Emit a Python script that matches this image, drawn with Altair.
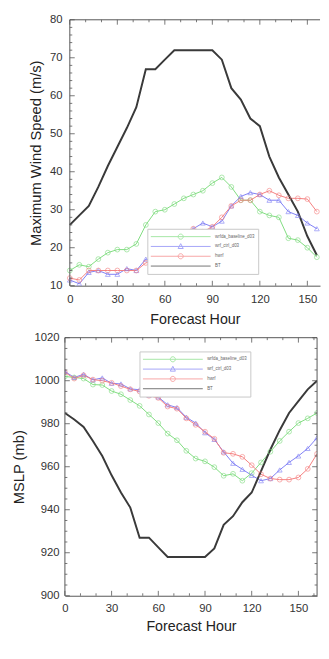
import altair as alt
import pandas as pd

FONT = "Liberation Sans"

hours = list(range(0, 163, 6))
series = ["wrfda_baseline_d03", "wrf_ctrl_d03", "hwrf", "BT"]
colors = ["#7fdc7f", "#7f7ff5", "#f58080", "#3a3a3a"]

# Maximum wind speed (m/s)
wind_green = [14, 15.5, 15, 17, 18.7, 19.5, 19.5, 21, 26, 29.5, 30, 31.5, 33, 34,
              35, 37, 38.5, 36, 32.5, 32.5, 29.5, 28.5, 28, 22.5, 22, 20, 17.5, 15]
wind_blue = [11.5, 10.5, 13.5, 14, 13, 13, 14.5, 14, 17, 16.5, 21, 22.5, 20, 25,
             26.5, 25.5, 27, 31, 33.5, 34.5, 34, 32.5, 32.5, 29.5, 28.5, 26.5, 25, 23]
wind_red = [12, 11.5, 14, 14, 14, 14, 14, 14, 16, 16.7, 20, 22.5, 24, 25,
            24.2, 25.5, 28, 31, 32.5, 32.5, 34, 35, 33.8, 33, 33, 32.8, 29.5, 28]
wind_bt = [26, 28.5, 31, 36, 41.5, 46.5, 51.5, 57, 67, 67, 69.5, 72, 72, 72,
           72, 72, 69.5, 62, 59, 54, 52, 44, 38.5, 34, 29.5, 23, 18, 14]

# Minimum sea level pressure (mb)
slp_green = [1002, 1001.5, 1001, 998.2, 998, 995.2, 993.7, 991, 988.3, 984.3, 980.3, 975.4, 972.3, 967.4,
             963.8, 962.5, 959.8, 955.8, 956.7, 953.5, 957, 962, 967, 972, 976.3, 980.3, 982.5, 985]
slp_blue = [1004.3, 1001.5, 1003, 1000.4, 1001.3, 998.8, 998.5, 996.2, 995.8, 993.3, 992.4, 988.8, 987.5, 983,
            980.3, 975.8, 972.7, 966.9, 961.6, 958.8, 956, 953.5, 954.5, 958.5, 962, 965, 968.5, 973.5]
slp_red = [1003.9, 1001, 1002.5, 1000.5, 1000, 999, 997.5, 996, 995, 993, 992, 988, 987, 982.5,
           979.5, 976.3, 973, 966.5, 966, 964.6, 960.7, 956.5, 954.5, 954, 954, 955, 959, 966]
slp_bt = [985, 982, 978.5, 972, 965, 956, 948, 941, 927, 927, 922.5, 918, 918, 918,
          918, 918, 922, 933, 937, 943.5, 948, 958, 968, 977, 985, 990.5, 996, 1000]

x_major = [0, 30, 60, 90, 120, 150]
x_minor = list(range(0, 161, 10))
wind_major = [10, 20, 30, 40, 50, 60, 70, 80]
wind_minor = list(range(10, 81, 2))
slp_major = [900, 920, 940, 960, 980, 1000, 1020]
slp_minor = list(range(900, 1021, 5))


def frame(values_by_series):
    rows = []
    for name, vals in zip(series, values_by_series):
        for h, v in zip(hours, vals):
            rows.append({"hour": h, "value": v, "series": name})
    return pd.DataFrame(rows)


wind_df = frame([wind_green, wind_blue, wind_red, wind_bt])
slp_df = frame([slp_green, slp_blue, slp_red, slp_bt])

R = 0.085
legend_paths = [
    f"M-1,0L1,0M{R},0A{R},{R},0,1,1,-{R},0A{R},{R},0,1,1,{R},0",
    f"M-1,0L1,0M0,-{R*1.1}L{R},{R*0.8}L-{R},{R*0.8}Z",
    f"M-1,0L1,0M{R},0A{R},{R},0,1,1,-{R},0A{R},{R},0,1,1,{R},0",
    "M-1,0L1,0",
]

AX_COL = "#555555"


def panel(df, W, H, xdom, xrng, ydom, ymaj, ymin, ytitle, ylabpad, ytitlepad,
          xlabpad, xtitlepad, legx, legy, x0, right_frame):
    xs = alt.Scale(domain=xdom, range=xrng, nice=False, zero=False)
    ys = alt.Scale(domain=ydom, nice=False, zero=False)
    cscale = alt.Scale(domain=series, range=colors)
    # the visible window of the panel ends at xdom[1]
    base = alt.Chart(df[df["hour"] <= xdom[1]])

    main_x = alt.Axis(orient="bottom", values=x_major, ticks=False, domain=True,
                      title="Forecast Hour", labelPadding=xlabpad, titlePadding=xtitlepad,
                      grid=False, labelFontSize=11.5, titleFontSize=14.5, labelFlush=False,
                      domainColor=AX_COL, format="d")
    main_y = alt.Axis(orient="left", values=ymaj, ticks=False, domain=False,
                      offset=-x0, title=ytitle, labelPadding=ylabpad, titlePadding=ytitlepad,
                      grid=False, labelFontSize=11.5, titleFontSize=15, format="d")

    def X(field):
        return alt.X(field, scale=xs, axis=main_x)

    def Y(field):
        return alt.Y(field, scale=ys, axis=main_y)

    models = base.transform_filter(alt.datum.series != "BT")
    lines = models.mark_line(strokeWidth=1, clip=True).encode(
        x=X("hour:Q"), y=Y("value:Q"),
        color=alt.Color("series:N", scale=cscale, legend=None),
    )
    bt = base.transform_filter(alt.datum.series == "BT").mark_line(
        strokeWidth=2, color="#3a3a3a", clip=True).encode(x=X("hour:Q"), y=Y("value:Q"))
    pts = models.mark_point(filled=False, size=24, strokeWidth=0.9, clip=True).encode(
        x=X("hour:Q"), y=Y("value:Q"),
        color=alt.Color("series:N", scale=cscale, legend=None),
        shape=alt.Shape("series:N", scale=alt.Scale(
            domain=series, range=["circle", "triangle-up", "circle", "circle"]), legend=None),
    )
    leg = alt.Legend(orient="none", legendX=legx, legendY=legy, title=None,
                     fillColor="white", strokeColor="#c8c8c8", padding=3,
                     labelFont=FONT, labelFontSize=4.5, labelColor="#666666",
                     symbolSize=3721, clipHeight=10, rowPadding=0, labelOffset=4,
                     symbolFillColor="transparent")
    legend_layer = base.transform_filter("false").mark_point(filled=False).encode(
        color=alt.Color("series:N", scale=cscale, legend=leg),
        shape=alt.Shape("series:N", scale=alt.Scale(domain=series, range=legend_paths), legend=leg),
        strokeWidth=alt.StrokeWidth("series:N", scale=alt.Scale(domain=series, range=[1, 1, 1, 2.5]),
                                    legend=leg),
    )

    # frame lines
    one = pd.DataFrame({"k": [0]})
    rule = dict(color=AX_COL, strokeWidth=1)
    frame_layers = [
        alt.Chart(one).mark_rule(**rule).encode(x=alt.value(x0), y=alt.value(0), y2=alt.value(H)),
        alt.Chart(one).mark_rule(**rule).encode(x=alt.value(x0), x2=alt.value(W), y=alt.value(0)),
    ]
    if right_frame:
        frame_layers.append(
            alt.Chart(one).mark_rule(**rule).encode(x=alt.value(W), y=alt.value(0), y2=alt.value(H)))

    # inward ticks
    xmax = xdom[1]
    tick_layers = []
    tk = dict(color=AX_COL, strokeWidth=0.8)
    for vals, ln in ((x_major, 5), ([v for v in x_minor if v not in x_major], 2.5)):
        d = pd.DataFrame({"t": [v for v in vals if v <= xmax]})
        tick_layers.append(alt.Chart(d).mark_rule(**tk).encode(
            x=X("t:Q"), y=alt.value(H), y2=alt.value(H - ln)))
        tick_layers.append(alt.Chart(d).mark_rule(**tk).encode(
            x=X("t:Q"), y=alt.value(0), y2=alt.value(ln)))
    for vals, ln in ((ymaj, 5), ([v for v in ymin if v not in ymaj], 2.5)):
        d = pd.DataFrame({"t": vals})
        tick_layers.append(alt.Chart(d).mark_rule(**tk).encode(
            y=Y("t:Q"), x=alt.value(x0), x2=alt.value(x0 + ln)))
        if right_frame:
            tick_layers.append(alt.Chart(d).mark_rule(**tk).encode(
                y=Y("t:Q"), x=alt.value(W), x2=alt.value(W - ln)))

    layers = [lines, bt, pts, legend_layer] + frame_layers + tick_layers
    return alt.layer(*layers).properties(width=W, height=H).resolve_scale(
        color="independent", shape="independent", strokeWidth="independent"
    )


top = panel(wind_df, 260, 271, [0, 158], [5, 260], [10, 80], wind_major, wind_minor,
            "Maximum Wind Speed (m/s)", 8, 6, 8, 8, 84, 213, 5, False)
bottom = panel(slp_df, 257, 263, [0, 162], [0, 257], [900, 1020], slp_major, slp_minor,
               "MSLP (mb)", 6, 8, 7, 6, 76, 14, 0, True)

chart = alt.vconcat(top, bottom, spacing=6).properties(
    padding={"left": 3, "top": 0, "right": 0, "bottom": -3}
).configure_view(stroke=None).configure_axis(
    labelFont=FONT, titleFont=FONT, labelColor="#333333", titleColor="#222222",
    titleFontWeight="normal"
)

chart.save("out.html", embed_options={"renderer": "svg", "actions": False})
